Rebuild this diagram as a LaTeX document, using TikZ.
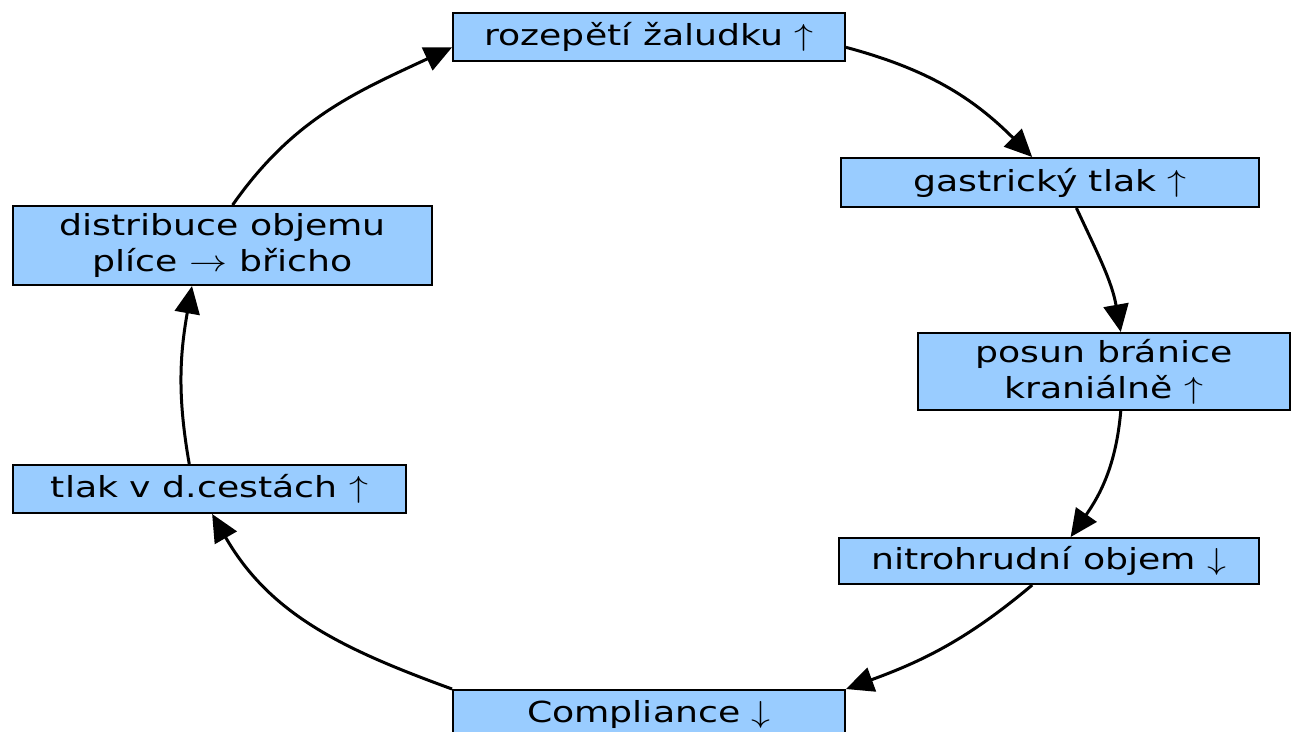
\documentclass[tikz,border=0pt]{standalone}
\usepackage{fontspec}
\setmainfont{DejaVu Sans}
\usetikzlibrary{arrows.meta}
\definecolor{boxblue}{RGB}{153,204,255}
\newcommand{\wide}[1]{\scalebox{1.25}[1]{#1}}

\begin{document}
\begin{tikzpicture}[x=0.02cm, y=0.02cm,
    cbox/.style={draw, fill=boxblue, line width=0.04cm, inner sep=0pt, align=center,
      font=\fontsize{16.5}{20.5}\selectfont},
    link/.style={line width=0.06cm, -{Triangle[length=0.55cm,width=0.5cm]}}]
    \useasboundingbox (0,0) rectangle (1293,-731);
    \clip (0,0) rectangle (1293,-731);
    % boxes of the cycle
    \node[cbox, minimum width=7.84cm, minimum height=0.96cm] (roz) at (649,-37) {\wide{rozepětí žaludku $\uparrow$}};
    \node[cbox, minimum width=8.36cm, minimum height=0.98cm] (gast) at (1050,-182.5) {\wide{gastrický tlak $\uparrow$}};
    \node[cbox, minimum width=7.44cm, minimum height=1.54cm] (bran) at (1104,-371.5) {\wide{posun bránice}\\ \wide{kraniálně $\uparrow$}};
    \node[cbox, minimum width=8.4cm, minimum height=0.92cm] (nitro) at (1049,-561) {\wide{nitrohrudní objem $\downarrow$}};
    \node[cbox, minimum width=7.84cm, minimum height=0.96cm] (compl) at (649,-714) {\wide{Compliance $\downarrow$}};
    \node[cbox, minimum width=7.86cm, minimum height=0.96cm] (tlak) at (209.5,-489) {\wide{tlak v d.cestách $\uparrow$}};
    \node[cbox, minimum width=8.38cm, minimum height=1.58cm] (distr) at (222.5,-245.5) {\wide{distribuce objemu}\\ \wide{plíce $\rightarrow$ břicho}};
    % connectors
    \draw[link] (roz.-3) to[out=-15, in=135] (gast.125);
    \draw[link] (gast.-44) to[out=-65, in=100] (bran.67);
    \draw[link] (bran.-67) to[out=-95, in=55] (nitro.48);
    \draw[link] (nitro.-125) to[out=-140, in=20] (compl.north east);
    \draw[link] (compl.north west) to[out=160, in=-60] (tlak.-84);
    \draw[link] (tlak.129) to[out=100, in=-100] (distr.-127);
    \draw[link] (distr.76) to[out=55, in=-155] (roz.183);
\end{tikzpicture}
\end{document}
